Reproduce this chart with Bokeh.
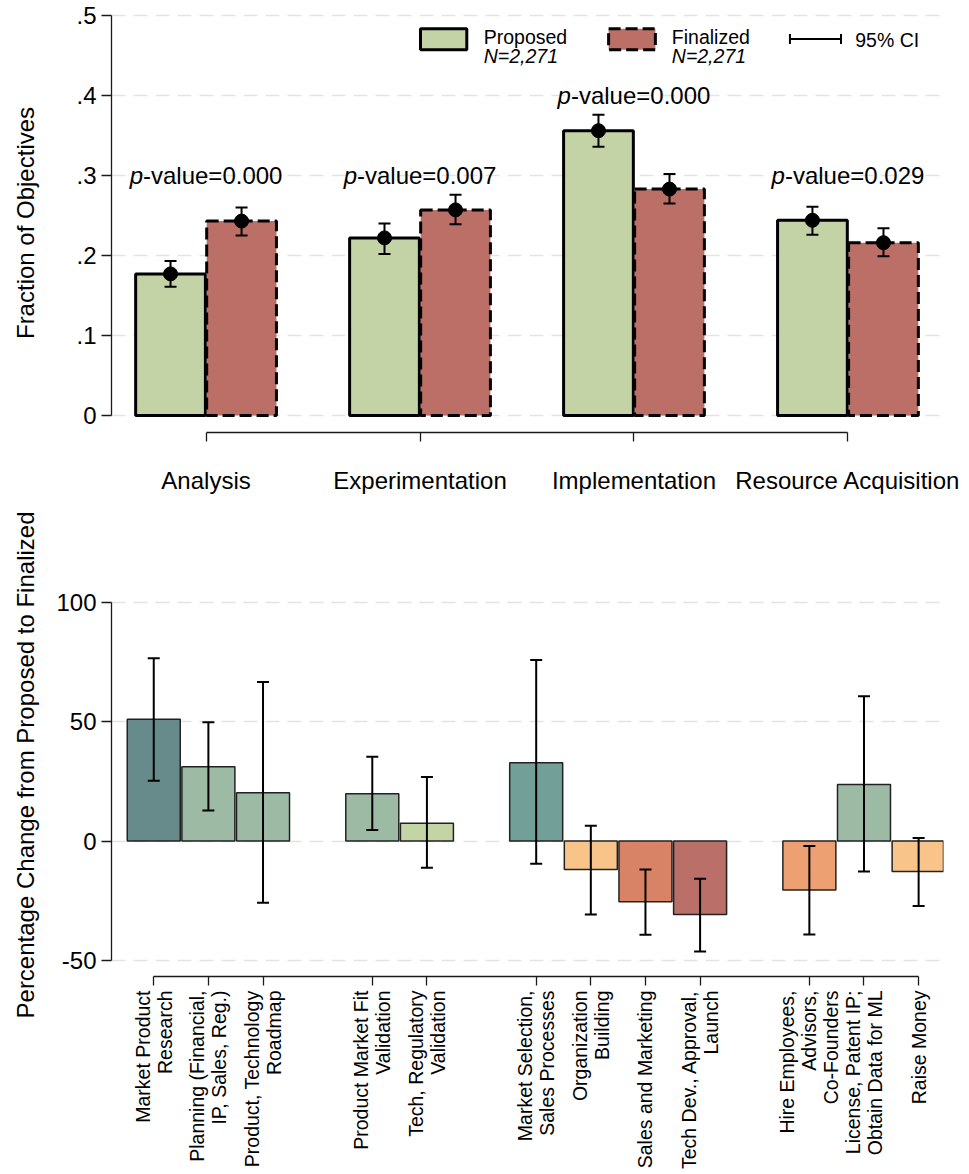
import math
from bokeh.plotting import figure
from bokeh.models import (Range1d, FixedTicker, CustomJSTickFormatter, ColumnDataSource,
                          Whisker, TeeHead, BoxAnnotation, Label)
from bokeh.layouts import column
from bokeh.embed import file_html
from bokeh.resources import INLINE
from bokeh.core.properties import value

# ------------------------------------------------------------------ data
groups = ["Analysis", "Experimentation", "Implementation", "Resource Acquisition"]
proposed_mean = [0.177, 0.222, 0.356, 0.244]
proposed_lo = [0.161, 0.202, 0.336, 0.226]
proposed_hi = [0.193, 0.240, 0.376, 0.261]
finalized_mean = [0.243, 0.257, 0.283, 0.216]
finalized_lo = [0.225, 0.239, 0.265, 0.199]
finalized_hi = [0.260, 0.276, 0.302, 0.234]
p_values = ["0.000", "0.007", "0.000", "0.029"]
n_proposed = "2,271"
n_finalized = "2,271"
top_y_ticks = [0, 0.1, 0.2, 0.3, 0.4, 0.5]

change_labels = [
    "Market Product\nResearch",
    "Planning (Financial,\nIP, Sales, Reg.)",
    "Product, Technology\nRoadmap",
    "Product Market Fit\nValidation",
    "Tech, Regulatory\nValidation",
    "Market Selection,\nSales Processes",
    "Organization\nBuilding",
    "Sales and Marketing",
    "Tech Dev., Approval,\nLaunch",
    "Hire Employees,\nAdvisors,\nCo-Founders",
    "License, Patent IP;\nObtain Data for ML",
    "Raise Money",
]
change_group = ["Analysis"] * 3 + ["Experimentation"] * 2 + ["Implementation"] * 4 + ["Resource Acquisition"] * 3
change_pct = [51.0, 31.1, 20.2, 19.8, 7.5, 32.8, -11.9, -25.4, -30.7, -20.5, 23.7, -12.7]
change_lo = [25.3, 12.8, -25.8, 4.7, -11.2, -9.5, -30.7, -39.2, -46.2, -39.1, -12.7, -27.2]
change_hi = [76.6, 49.8, 66.6, 35.3, 26.8, 75.8, 6.4, -11.9, -15.8, -2.1, 60.7, 1.3]
bottom_y_ticks = [-50, 0, 50, 100]

# ------------------------------------------------------------------ styles
FONT = "Liberation Sans"
GREEN = "#c3d3a6"
RED = "#bb6f67"
BAR_COLORS = ["#678b8a", "#9dbaa5", "#9dbaa5", "#9dbaa5", "#c5d4a5", "#72a098",
              "#f9c48a", "#d98366", "#ba6f68", "#eda071", "#9dbaa5", "#f9c48a"]
AXIS_COLOR = "#1a1a1a"
GRID_COLOR = "#e3e3e3"
GRID_DASH = "14 8"
W = 969


def style_axes(p):
    p.outline_line_color = None
    p.background_fill_color = "white"
    p.border_fill_color = "white"
    p.xgrid.visible = False
    p.ygrid.grid_line_color = GRID_COLOR
    p.ygrid.grid_line_width = 1.3
    p.ygrid.grid_line_dash = GRID_DASH
    for ax in (p.xaxis[0], p.yaxis[0]):
        ax.axis_line_color = AXIS_COLOR
        ax.axis_line_width = 1.3
        ax.major_tick_line_color = AXIS_COLOR
        ax.major_tick_line_width = 1.3
        ax.major_tick_in = 0
        ax.minor_tick_in = 0
        ax.minor_tick_out = 0
        ax.major_label_text_font = FONT
        ax.major_label_text_color = "black"
        ax.axis_label_text_font = FONT
        ax.axis_label_text_font_style = "normal"
        ax.axis_label_text_color = "black"
        ax.axis_label_text_font_size = "24px"


# ------------------------------------------------------------------ top panel
KX = 215.0          # px per group
FL, FT, FW, FH = 111, 13, 836, 419
X0 = 1 - (206 - FL) / KX
KY = 800.0          # px per unit
Y0 = -17 / KY
H1 = 505

top = figure(width=W, height=H1, output_backend="svg", toolbar_location=None,
             x_range=Range1d(X0, X0 + FW / KX), y_range=Range1d(Y0, Y0 + FH / KY),
             min_border_left=FL, min_border_right=W - FL - FW,
             min_border_top=FT, min_border_bottom=H1 - FT - FH)
style_axes(top)

pos = [i + 1 for i in range(len(groups))]
off, bw = 0.166, 0.326
src_p = ColumnDataSource(dict(x=[v - off for v in pos], m=proposed_mean, lo=proposed_lo, hi=proposed_hi))
src_f = ColumnDataSource(dict(x=[v + off for v in pos], m=finalized_mean, lo=finalized_lo, hi=finalized_hi))

top.vbar(x="x", top="m", bottom=0, width=bw, source=src_p,
         fill_color=GREEN, line_color="black", line_width=3)
top.vbar(x="x", top="m", bottom=0, width=bw, source=src_f,
         fill_color=RED, line_color="black", line_width=3, line_dash="12 5")
for src in (src_p, src_f):
    top.add_layout(Whisker(source=src, base="x", lower="lo", upper="hi",
                           line_color="black", line_width=2, level="annotation",
                           upper_head=TeeHead(size=12, line_width=2, line_color="black"),
                           lower_head=TeeHead(size=12, line_width=2, line_color="black")))
    sc = top.scatter(x="x", y="m", source=src, size=14, color="black")
    sc.level = "overlay"

# p-value labels, placed at the next tenth above the confidence intervals
label_y = [math.ceil(max(a, b) * 10) / 10 for a, b in zip(proposed_hi, finalized_hi)]
fs = 24
pw = 0.556 * fs
restw = 5.809 * fs
top.text(x=pos, y=label_y, text=["p"] * len(pos), text_font=value(FONT),
         text_font_size="24px", text_font_style="italic", text_align="right",
         text_baseline="middle", x_offset=-restw / 2 + pw / 2, text_color="black")
top.text(x=pos, y=label_y, text=["-value=" + v for v in p_values], text_font=value(FONT),
         text_font_size="24px", text_align="center", text_baseline="middle",
         x_offset=pw / 2, text_color="black")

top.yaxis.ticker = FixedTicker(ticks=top_y_ticks)
top.ygrid.ticker = FixedTicker(ticks=top_y_ticks)
top.yaxis.formatter = CustomJSTickFormatter(
    code="return tick == 0 ? '0' : tick.toFixed(1).replace(/^0/, '');")
top.yaxis.bounds = (top_y_ticks[0], top_y_ticks[-1])
top.yaxis.axis_label = "Fraction of Objectives"
top.yaxis.major_tick_out = 10
top.yaxis.major_label_standoff = 5
top.yaxis.axis_label_standoff = 34
top.yaxis.major_label_text_font_size = "24px"

top.xaxis.ticker = FixedTicker(ticks=pos)
top.xaxis.major_label_overrides = {v: g for v, g in zip(pos, groups)}
top.xaxis.bounds = (pos[0], pos[-1])
top.xaxis.major_tick_out = 9
top.xaxis.major_label_standoff = 25
top.xaxis.major_label_text_font_size = "24px"


# legend (layout positions in canvas px converted to data units)
def tx(px):
    return X0 + (px - FL) / KX


def ty(py):
    return Y0 + (FT + FH - py) / KY


top.add_layout(BoxAnnotation(left=tx(421.5), right=tx(468), top=ty(28.2), bottom=ty(49.2),
                             fill_color=GREEN, fill_alpha=1, line_color="black",
                             line_alpha=1, line_width=3, level="overlay"))
top.add_layout(BoxAnnotation(left=tx(610.5), right=tx(657.5), top=ty(28.2), bottom=ty(49.2),
                             fill_color=RED, fill_alpha=1, line_color="black",
                             line_alpha=1, line_width=3, line_dash="12 5", level="overlay"))
ci_src = ColumnDataSource(dict(b=[ty(38.5)], lo=[tx(792.7)], hi=[tx(844)]))
top.add_layout(Whisker(source=ci_src, base="b", lower="lo", upper="hi", dimension="width",
                       line_color="black", line_width=2, level="overlay",
                       upper_head=TeeHead(size=10, line_width=2, line_color="black"),
                       lower_head=TeeHead(size=10, line_width=2, line_color="black")))
for txt, x, y, style in [("Proposed", 485, 36.7, "normal"), ("N=" + n_proposed, 485, 55, "italic"),
                         ("Finalized", 674, 36.7, "normal"), ("N=" + n_finalized, 674, 55, "italic")]:
    top.add_layout(Label(x=tx(x), y=ty(y), text=txt, text_font=FONT, text_font_size="19.5px",
                         text_font_style=style, text_baseline="alphabetic", text_align="left",
                         text_color="black"))
top.add_layout(Label(x=tx(858.3), y=ty(39.7), text="95% CI", text_font=FONT, text_font_size="19.5px",
                     text_baseline="middle", text_align="left", text_color="black"))

# ------------------------------------------------------------------ bottom panel
slots = []
s = 0
prev = None
for g in change_group:
    s += 1 if prev in (None, g) else 2
    slots.append(s)
    prev = g

KX2 = 54.7
FL2, FT2, FW2, FH2 = 110, 48, 833, 423
BX0 = slots[0] - (152.3 - FL2) / KX2
KY2 = 2.388
BY0 = -50 - 16 / KY2
H2 = 667

bot = figure(width=W, height=H2, output_backend="svg", toolbar_location=None,
             x_range=Range1d(BX0, BX0 + FW2 / KX2), y_range=Range1d(BY0, BY0 + FH2 / KY2),
             min_border_left=FL2, min_border_right=W - FL2 - FW2,
             min_border_top=FT2, min_border_bottom=H2 - FT2 - FH2)
style_axes(bot)

src_c = ColumnDataSource(dict(x=slots, v=change_pct, lo=change_lo, hi=change_hi, c=BAR_COLORS))
bot.vbar(x="x", top="v", bottom=0, width=0.97, source=src_c, fill_color="c",
         line_color="#222222", line_width=1.5)
bot.add_layout(Whisker(source=src_c, base="x", lower="lo", upper="hi",
                       line_color="black", line_width=2, level="annotation",
                       upper_head=TeeHead(size=12, line_width=2, line_color="black"),
                       lower_head=TeeHead(size=12, line_width=2, line_color="black")))

bot.yaxis.ticker = FixedTicker(ticks=bottom_y_ticks)
bot.ygrid.ticker = FixedTicker(ticks=bottom_y_ticks)
bot.yaxis.major_label_overrides = {v: str(v) for v in bottom_y_ticks}
bot.yaxis.bounds = (bottom_y_ticks[0], bottom_y_ticks[-1])
bot.yaxis.axis_label = "Percentage Change from Proposed to Finalized"
bot.yaxis.major_tick_out = 10
bot.yaxis.major_label_standoff = 5
bot.yaxis.axis_label_standoff = 14
bot.yaxis.major_label_text_font_size = "24px"

bot.xaxis.ticker = FixedTicker(ticks=slots)
bot.xaxis.major_label_overrides = {v: lab for v, lab in zip(slots, change_labels)}
bot.xaxis.bounds = (slots[0], slots[-1])
bot.xaxis.major_tick_out = 9
bot.xaxis.major_label_standoff = 5
bot.xaxis.major_label_orientation = math.pi / 2
bot.xaxis.major_label_text_font_size = "19.5px"
bot.xaxis.major_label_text_line_height = 1.0

layout = column(top, bot, spacing=0)
with open("out.html", "w") as f:
    f.write(file_html(layout, INLINE))
